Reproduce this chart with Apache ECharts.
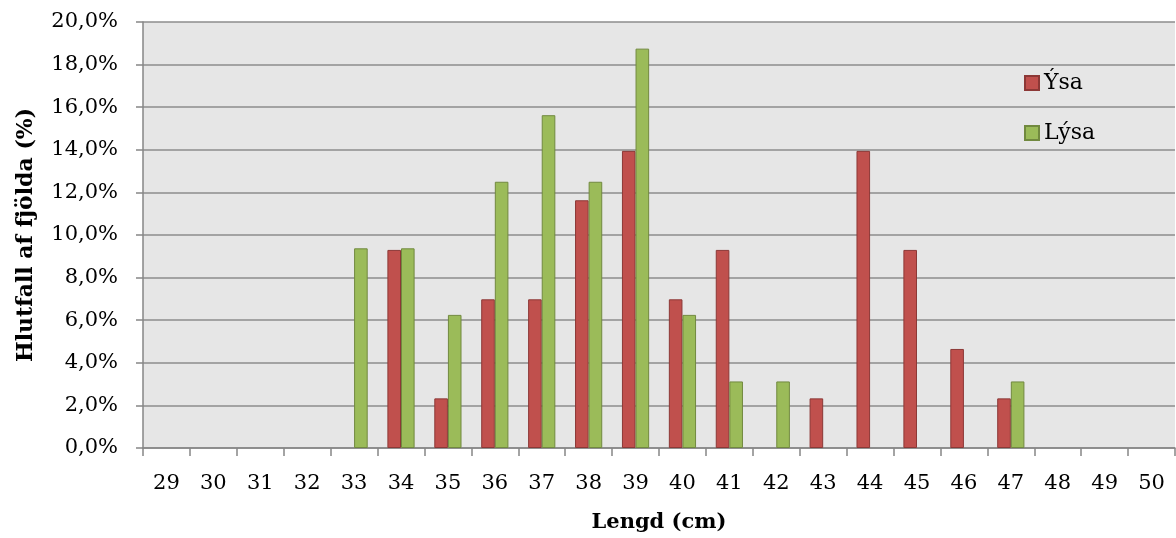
<!DOCTYPE html>
<html><head><meta charset="utf-8">
<script src="https://cdn.jsdelivr.net/npm/echarts@6/dist/echarts.min.js"></script>
<style>html,body{margin:0;padding:0;background:#fff}#c{width:1176px;height:538px}</style>
</head><body><div id="c"></div>
<script>
const categories = ['29','30','31','32','33','34','35','36','37','38','39','40','41','42','43','44','45','46','47','48','49','50'];
const ysa  = [0,0,0,0,0,9.30,2.33,6.98,6.98,11.63,13.95,6.98,9.30,0,2.33,13.95,9.30,4.65,2.33,0,0,0];
const lysa = [0,0,0,0,9.375,9.375,6.25,12.5,15.625,12.5,18.75,6.25,3.125,3.125,0,0,0,0,3.125,0,0,0];
const seriesNames = ['Ýsa','Lýsa'];
const FONT = 'DejaVu Serif';
const noZero = arr => arr.map(v => v === 0 ? null : v);
const chart = echarts.init(document.getElementById('c'), null, {renderer:'canvas'});
chart.setOption({
  animation:false,
  textStyle:{fontFamily:FONT},
  grid:{left:143,right:1,top:22,bottom:89,show:true,backgroundColor:'#e6e6e6',borderWidth:0},
  legend:{orient:'vertical',left:1019,top:67,itemGap:28,itemWidth:14,itemHeight:14,icon:'rect',
    textStyle:{fontFamily:FONT,fontSize:22,color:'#000'},data:seriesNames},
  xAxis:{type:'category',data:categories,
    name:'Lengd (cm)',nameLocation:'middle',nameGap:64,
    nameTextStyle:{fontFamily:FONT,fontSize:21,fontWeight:'bold',color:'#000'},
    axisLine:{show:true,lineStyle:{color:'#868686',width:1.5}},
    axisTick:{show:true,length:8,lineStyle:{color:'#868686',width:1.5}},
    axisLabel:{fontFamily:FONT,fontSize:21,color:'#000',margin:25,interval:0},
    splitLine:{show:false}},
  yAxis:{type:'value',min:0,max:20,interval:2,
    name:'Hlutfall af fjölda (%)',nameLocation:'middle',nameGap:106,nameRotate:90,
    nameTextStyle:{fontFamily:FONT,fontSize:22,fontWeight:'bold',color:'#000'},
    axisLine:{show:true,lineStyle:{color:'#868686',width:1.5}},
    axisTick:{show:true,length:7,lineStyle:{color:'#868686',width:1.5}},
    axisLabel:{fontFamily:FONT,fontSize:21,color:'#000',margin:25,
      formatter:v=>v.toFixed(1).replace('.',',')+'%'},
    splitLine:{show:true,lineStyle:{color:'#8c8c8c',width:1.5}}},
  series:[
    {name:seriesNames[0],type:'bar',data:noZero(ysa),barGap:'0%',barCategoryGap:'42%',
      itemStyle:{color:'#c0504d',borderColor:'#8c3836',borderWidth:1}},
    {name:seriesNames[1],type:'bar',data:noZero(lysa),barGap:'0%',barCategoryGap:'42%',
      itemStyle:{color:'#9bbb59',borderColor:'#71893f',borderWidth:1}}
  ]
});
</script></body></html>
